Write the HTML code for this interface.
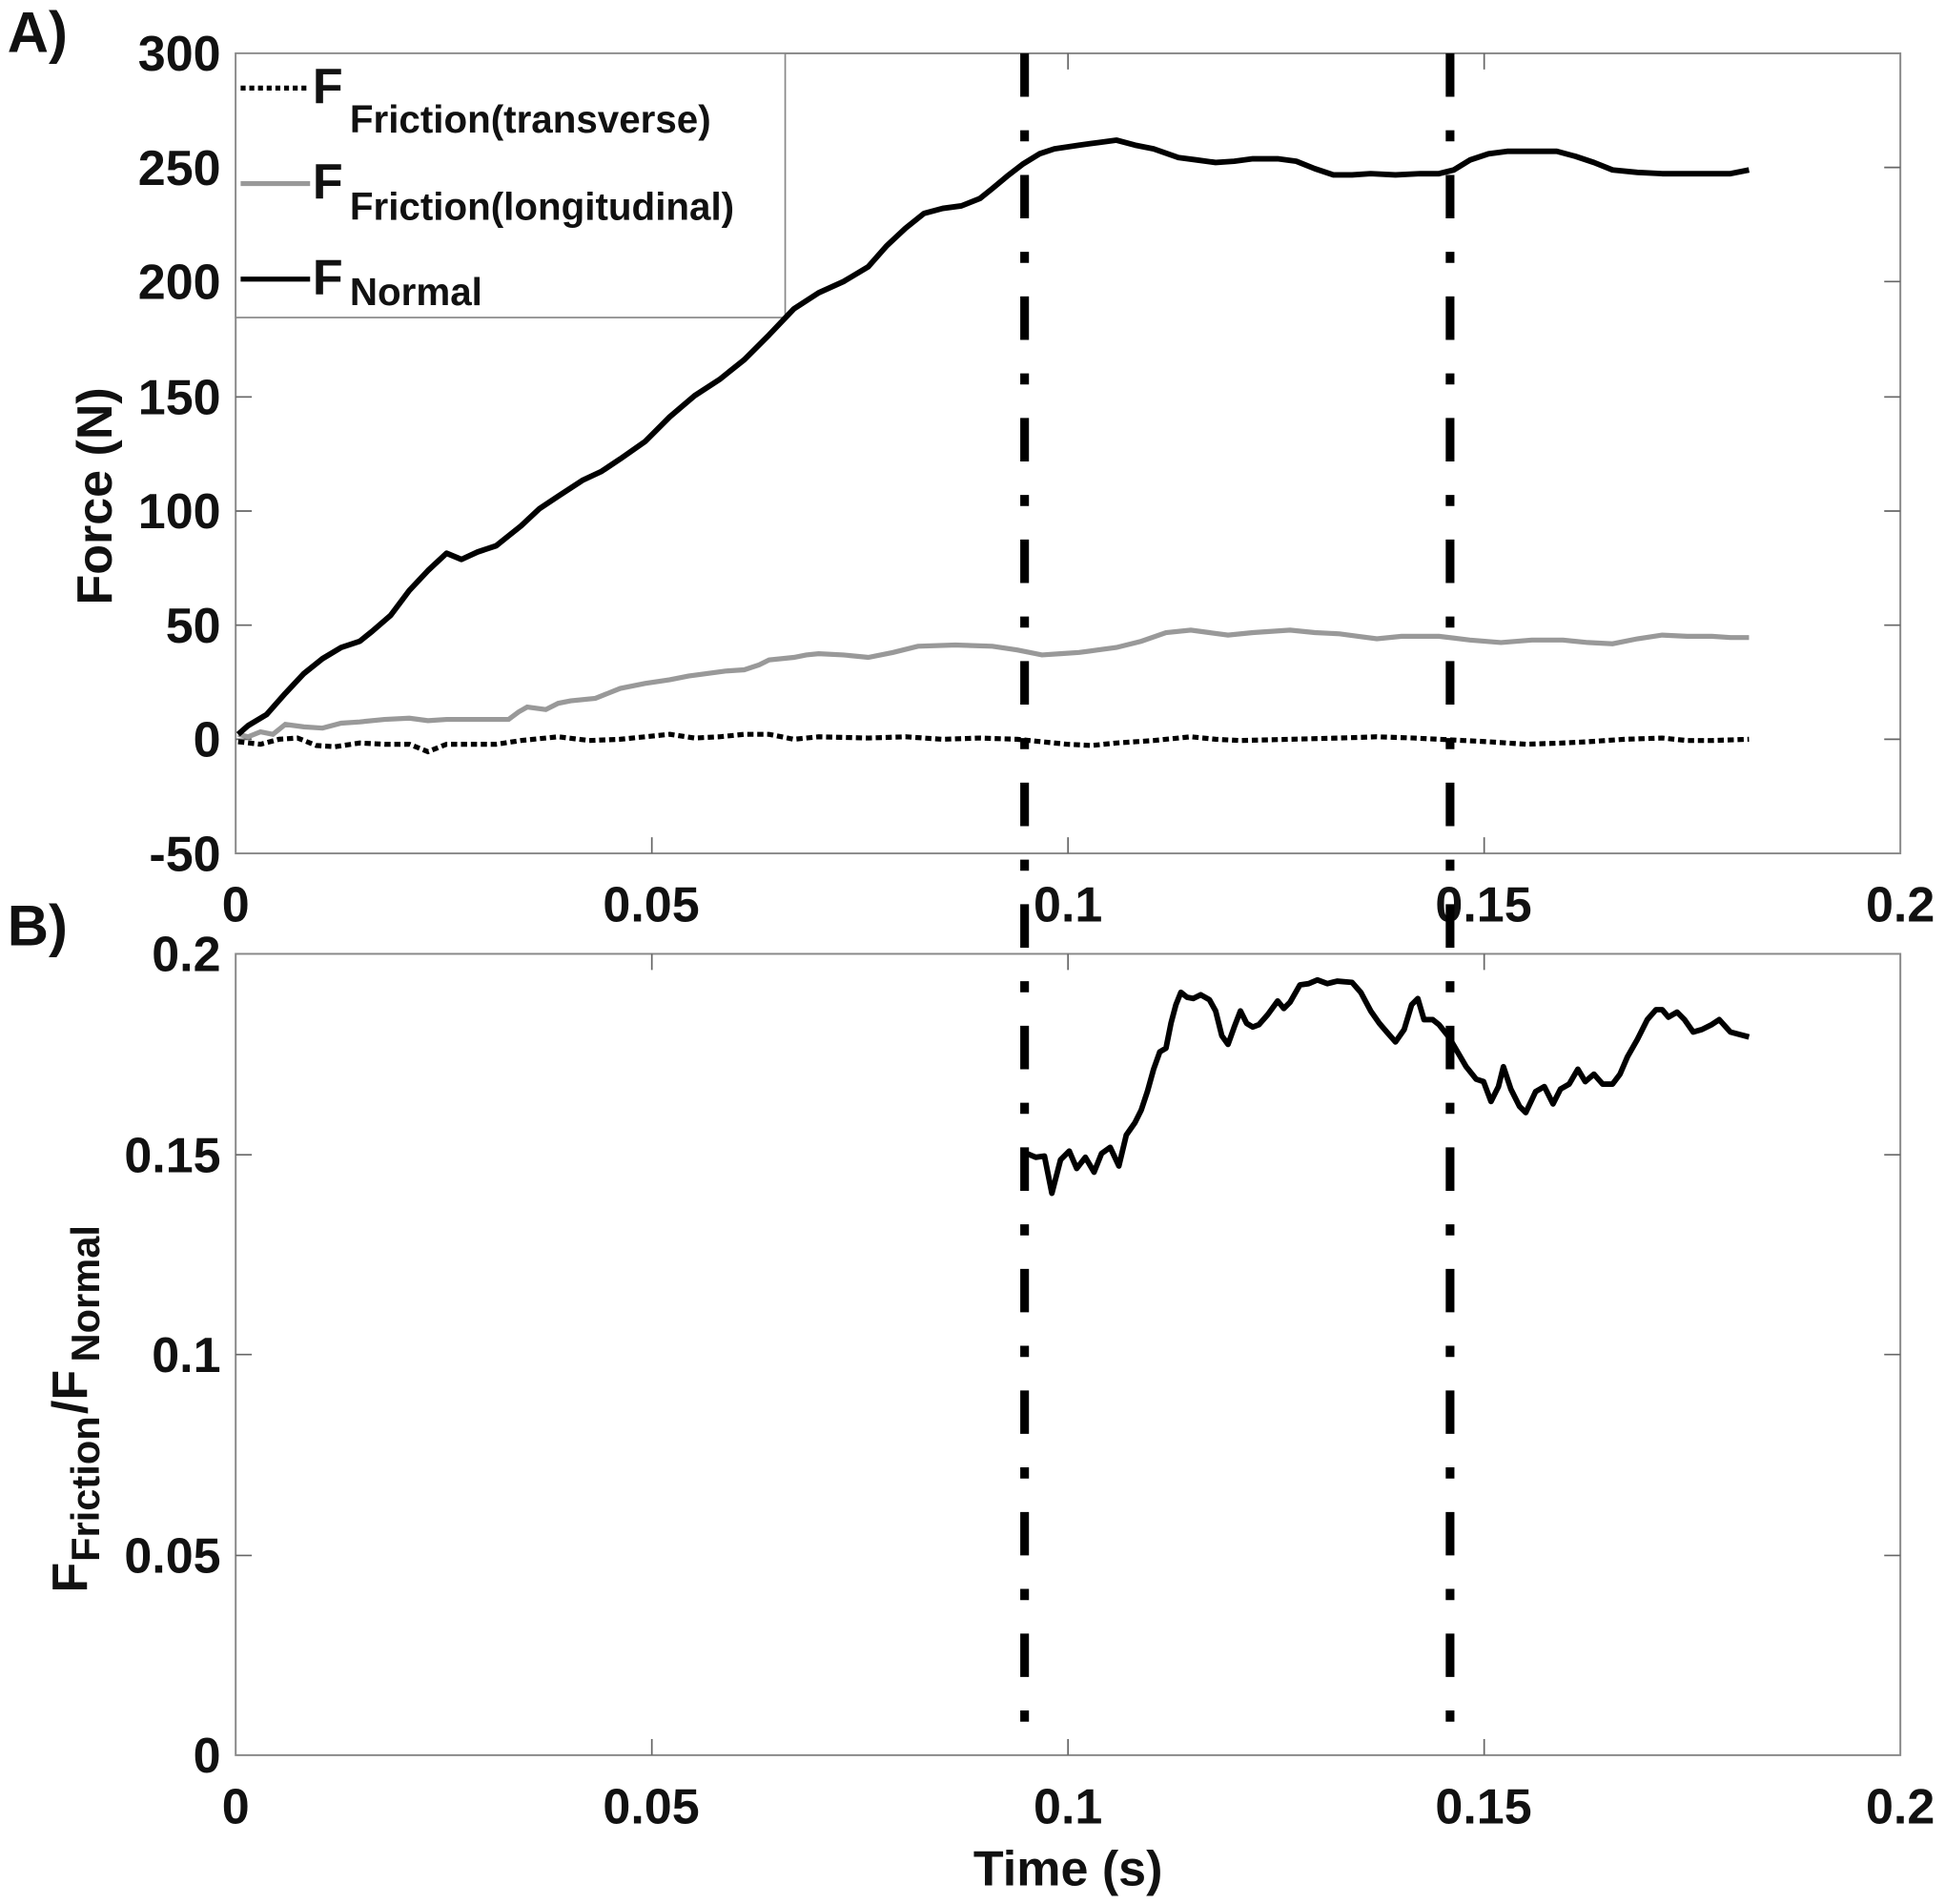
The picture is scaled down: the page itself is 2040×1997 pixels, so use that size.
<!DOCTYPE html>
<html><head><meta charset="utf-8"><style>
html,body{margin:0;padding:0;background:#fff;}
svg{display:block;}
text{font-family:"Liberation Sans",Arial,sans-serif;font-weight:bold;fill:#111;}
</style></head><body>
<svg width="2040" height="1997" viewBox="0 0 1568 1535" preserveAspectRatio="none" xmlns="http://www.w3.org/2000/svg">
<rect width="1568" height="1535" fill="#fff"/>
<!-- Panel A axes -->
<rect x="190" y="43" width="1342" height="645" fill="none" stroke="#888" stroke-width="1.5"/>
<g stroke="#666" stroke-width="1.3">
<line x1="525.5" y1="688" x2="525.5" y2="675"/><line x1="861" y1="688" x2="861" y2="675"/><line x1="1196.5" y1="688" x2="1196.5" y2="675"/>
<line x1="525.5" y1="43" x2="525.5" y2="56"/><line x1="861" y1="43" x2="861" y2="56"/><line x1="1196.5" y1="43" x2="1196.5" y2="56"/>
<line x1="190" y1="135" x2="203" y2="135"/><line x1="190" y1="227" x2="203" y2="227"/><line x1="190" y1="320" x2="203" y2="320"/><line x1="190" y1="412" x2="203" y2="412"/><line x1="190" y1="504" x2="203" y2="504"/><line x1="190" y1="596" x2="203" y2="596"/>
<line x1="1532" y1="135" x2="1519" y2="135"/><line x1="1532" y1="227" x2="1519" y2="227"/><line x1="1532" y1="320" x2="1519" y2="320"/><line x1="1532" y1="412" x2="1519" y2="412"/><line x1="1532" y1="504" x2="1519" y2="504"/><line x1="1532" y1="596" x2="1519" y2="596"/>
</g>
<g font-size="40" text-anchor="end">
<text x="178" y="57">300</text><text x="178" y="149">250</text><text x="178" y="241">200</text><text x="178" y="334">150</text><text x="178" y="426">100</text><text x="178" y="518">50</text><text x="178" y="610">0</text><text x="178" y="702">-50</text>
</g>
<g font-size="40" text-anchor="middle">
<text x="190" y="743">0</text><text x="525" y="743">0.05</text><text x="861" y="743">0.1</text><text x="1196" y="743">0.15</text><text x="1532" y="743">0.2</text>
</g>
<text x="90" y="400" font-size="40" text-anchor="middle" transform="rotate(-90 90 400)">Force (N)</text>
<text x="6" y="42" font-size="46">A)</text>
<!-- legend -->
<rect x="190" y="43" width="443" height="213" fill="#fff" stroke="#888" stroke-width="1.3"/>
<line x1="194" y1="71" x2="250" y2="71" stroke="#000" stroke-width="4" stroke-dasharray="4,3"/>
<line x1="194" y1="148" x2="250" y2="148" stroke="#999" stroke-width="4"/>
<line x1="194" y1="225" x2="250" y2="225" stroke="#000" stroke-width="4"/>
<text x="252" y="83" font-size="40">F</text><text x="282" y="107" font-size="31">Friction(transverse)</text>
<text x="252" y="160" font-size="40">F</text><text x="282" y="177" font-size="31">Friction(longitudinal)</text>
<text x="252" y="237" font-size="40">F</text><text x="282" y="246" font-size="31">Normal</text>
<!-- series A -->
<polyline fill="none" stroke="#000" stroke-width="4" stroke-dasharray="5,3" points="192,598 210,600 225,596 240,595 255,601 270,602 290,599 310,600 330,600 345,606 360,600 380,600 400,600 420,597 450,594 475,597 500,596 520,594 540,592 560,595 580,594 600,592 620,592 640,596 660,594 700,595 730,594 760,596 790,595 820,596 840,598 860,600 880,601 900,599 930,597 960,594 980,596 1000,597 1040,596 1080,595 1110,594 1140,595 1160,596 1180,597 1200,598 1230,600 1260,599 1280,598 1310,596 1340,595 1360,597 1380,597 1410,596"/>
<polyline fill="none" stroke="#999" stroke-width="4" points="192,592 200,594 210,590 220,592 230,584 245,586 260,587 275,583 290,582 310,580 330,579 345,581 360,580 385,580 410,580 418,574 425,570 440,572 450,567 460,565 480,563 500,555 520,551 540,548 555,545 570,543 585,541 600,540 612,536 620,532 640,530 650,528 660,527 680,528 700,530 720,526 740,521 770,520 800,521 820,524 840,528 855,527 870,526 885,524 900,522 920,517 940,510 960,508 975,510 990,512 1010,510 1040,508 1060,510 1080,511 1095,513 1110,515 1130,513 1160,513 1185,516 1210,518 1235,516 1260,516 1280,518 1300,519 1320,515 1340,512 1360,513 1380,513 1395,514 1410,514"/>
<polyline fill="none" stroke="#000" stroke-width="4.5" stroke-linejoin="round" points="192,592 200,585 215,576 230,559 245,543 260,531 275,522 290,517 300,509 315,496 330,476 345,460 360,446 372,451 385,445 400,440 410,432 420,424 435,410 450,400 470,387 485,380 500,370 520,356 540,336 560,319 580,306 600,290 620,270 640,249 660,236 680,227 700,215 715,198 730,184 745,172 760,168 775,166 790,160 800,152 812,142 825,132 838,124 850,120 870,117 885,115 900,113 915,117 930,120 950,127 965,129 980,131 995,130 1010,128 1030,128 1045,130 1060,136 1075,141 1090,141 1105,140 1125,141 1145,140 1160,140 1172,137 1185,129 1200,124 1215,122 1235,122 1255,122 1270,126 1285,131 1300,137 1320,139 1340,140 1360,140 1380,140 1395,140 1410,137"/>
<!-- Panel B axes -->
<rect x="190" y="769" width="1342" height="646" fill="none" stroke="#888" stroke-width="1.5"/>
<g stroke="#666" stroke-width="1.3">
<line x1="525.5" y1="1415" x2="525.5" y2="1402"/><line x1="861" y1="1415" x2="861" y2="1402"/><line x1="1196.5" y1="1415" x2="1196.5" y2="1402"/>
<line x1="525.5" y1="769" x2="525.5" y2="782"/><line x1="861" y1="769" x2="861" y2="782"/><line x1="1196.5" y1="769" x2="1196.5" y2="782"/>
<line x1="190" y1="931" x2="203" y2="931"/><line x1="190" y1="1092" x2="203" y2="1092"/><line x1="190" y1="1254" x2="203" y2="1254"/>
<line x1="1532" y1="931" x2="1519" y2="931"/><line x1="1532" y1="1092" x2="1519" y2="1092"/><line x1="1532" y1="1254" x2="1519" y2="1254"/>
</g>
<g font-size="40" text-anchor="end">
<text x="178" y="783">0.2</text><text x="178" y="945">0.15</text><text x="178" y="1106">0.1</text><text x="178" y="1268">0.05</text><text x="178" y="1429">0</text>
</g>
<g font-size="40" text-anchor="middle">
<text x="190" y="1470">0</text><text x="525" y="1470">0.05</text><text x="861" y="1470">0.1</text><text x="1196" y="1470">0.15</text><text x="1532" y="1470">0.2</text>
</g>
<text x="861" y="1520" font-size="40" text-anchor="middle">Time (s)</text>
<text x="6" y="762" font-size="46">B)</text>
<g transform="rotate(-90 0 0)">
<text x="-1284" y="70" font-size="40">F</text><text x="-1259" y="80" font-size="32">Friction</text><text x="-1140" y="70" font-size="40">/F</text><text x="-1098" y="80" font-size="32">Normal</text>
</g>
<polyline fill="none" stroke="#000" stroke-width="4.5" stroke-linejoin="round" points="828,930 835,933 842,932 848,962 855,935 862,928 868,942 875,933 882,945 888,930 895,925 902,940 908,915 915,905 920,895 925,880 930,862 935,848 940,845 944,825 948,810 952,800 957,804 962,805 968,802 975,806 980,815 985,835 990,842 995,828 1000,815 1005,825 1010,828 1015,826 1022,818 1030,807 1035,813 1040,808 1048,794 1055,793 1062,790 1070,793 1078,791 1090,792 1097,800 1105,815 1112,825 1118,832 1125,840 1132,830 1138,810 1143,805 1148,822 1155,822 1160,826 1168,836 1175,848 1182,860 1190,870 1196,872 1202,888 1208,876 1212,860 1218,878 1225,892 1230,897 1238,880 1245,876 1252,890 1258,878 1265,874 1272,862 1278,872 1285,866 1292,874 1300,874 1306,866 1312,852 1320,838 1328,822 1335,814 1340,814 1345,820 1352,816 1358,822 1365,832 1372,830 1380,826 1386,822 1395,832 1410,836"/>
<!-- vertical dash-dot markers -->
<g stroke="#000" stroke-width="7" stroke-dasharray="35,27,9,27">
<line x1="826" y1="43" x2="826" y2="1415"/>
<line x1="1169" y1="43" x2="1169" y2="1415"/>
</g>
</svg>
</body></html>
